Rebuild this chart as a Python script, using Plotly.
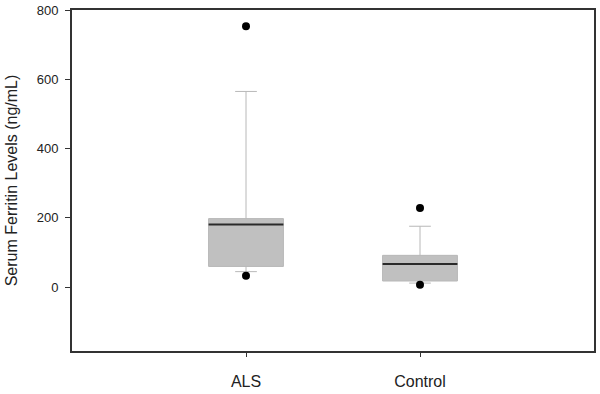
import plotly.graph_objects as go

groups = ["ALS", "Control"]
group_pos = [0, 1]
q1 = [60, 18]
median = [181, 67]
q3 = [198, 92]
lower_whisker = [45, 12]
upper_whisker = [565, 176]
outlier_x = [0, 0, 1, 1]
outlier_y = [753, 33, 229, 7]
y_ticks = [0, 200, 400, 600, 800]

fig = go.Figure()
fig.add_trace(go.Box(
    x=group_pos, q1=q1, median=median, q3=q3,
    lowerfence=lower_whisker, upperfence=upper_whisker,
    width=0.43, whiskerwidth=0.29,
    fillcolor="#c0c0c0", line=dict(color="#b8b8b8", width=1),
    boxpoints=False, showlegend=False, hoverinfo="skip",
))
fig.add_trace(go.Box(
    x=group_pos, q1=median, median=median, q3=median,
    lowerfence=median, upperfence=median,
    width=0.43, whiskerwidth=0,
    fillcolor="rgba(0,0,0,0)", line=dict(color="#2a2a2a", width=2),
    boxpoints=False, showlegend=False, hoverinfo="skip",
))
fig.add_trace(go.Scatter(
    x=outlier_x, y=outlier_y, mode="markers",
    marker=dict(color="black", size=8),
    showlegend=False, hoverinfo="skip",
))

fig.update_layout(
    width=600, height=394,
    margin=dict(l=72, r=6, t=10, b=43),
    paper_bgcolor="white", plot_bgcolor="white",
    font=dict(family="Liberation Sans, Arial", color="#222"),
    boxmode="overlay",
    xaxis=dict(
        range=[-1, 2], tickmode="array", tickvals=group_pos, ticktext=groups,
        showgrid=False, zeroline=False, showline=True, mirror=True,
        linecolor="#333", linewidth=2, ticks="outside", ticklen=4,
        tickcolor="#333", tickwidth=1, tickfont=dict(size=16),
        ticklabelstandoff=11, automargin=False,
    ),
    yaxis=dict(
        range=[-184, 800], tickmode="array", tickvals=y_ticks,
        showgrid=False, zeroline=False, showline=True, mirror=True,
        linecolor="#333", linewidth=2, ticks="outside", ticklen=5,
        tickcolor="#333", tickwidth=1, tickfont=dict(size=13),
        ticklabelstandoff=4, automargin=False,
        title=dict(text="Serum Ferritin Levels (ng/mL)", font=dict(size=16)),
    ),
)
fig.write_html("out.html", config={"displayModeBar": False},
               post_script="document.body.style.margin='0px';document.body.style.overflow='hidden';")
